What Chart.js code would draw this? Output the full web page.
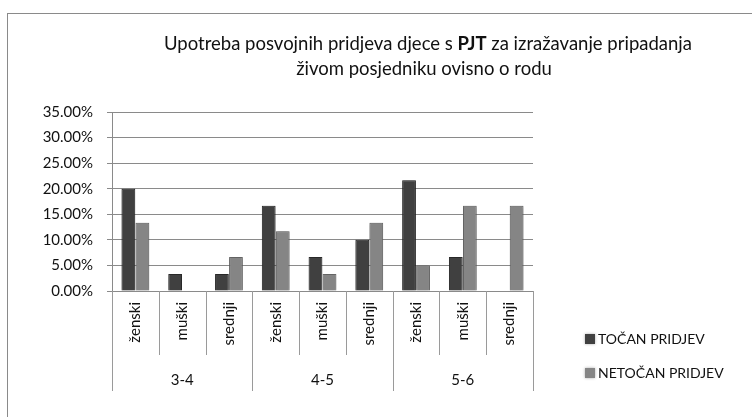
<!DOCTYPE html>
<html>
<head>
<meta charset="utf-8">
<script src="https://cdn.jsdelivr.net/npm/chart.js@4.4.1/dist/chart.umd.min.js"></script>
<style>
  html, body { margin: 0; padding: 0; background: #fff; }
  #wrap { width: 752px; height: 417px; position: relative; }
</style>
</head>
<body>
<div id="wrap"><canvas id="chart"></canvas></div>
<script>
const ageGroups = ["3-4", "4-5", "5-6"];
const genders = ["ženski", "muški", "srednji"];
const categories = [
  "ženski", "muški", "srednji",
  "ženski", "muški", "srednji",
  "ženski", "muški", "srednji",
];
const seriesNames = ["TOČAN PRIDJEV", "NETOČAN PRIDJEV"];
const tocan = [0.2000, 0.0333, 0.0333, 0.1667, 0.0667, 0.1000, 0.2167, 0.0667, 0];
const netocan = [0.1333, 0, 0.0667, 0.1167, 0.0333, 0.1333, 0.0500, 0.1667, 0.1667];
const yTicks = [0, 0.05, 0.10, 0.15, 0.20, 0.25, 0.30, 0.35];

const FONT = "Lato, 'Open Sans', sans-serif";
const TEXT = "#111";
const LINE = "#8a8a8a";
const colors = ["#404040", "#858585"];
const borders = ["#2c2c2c", "#6c6c6c"];

// frame, title, two-level category axis and legend
const decor = {
  id: "decor",
  beforeDraw(chart) {
    const ctx = chart.ctx;
    ctx.save();
    ctx.fillStyle = "#fff";
    ctx.fillRect(0, 0, chart.width, chart.height);
    ctx.strokeStyle = LINE;
    ctx.lineWidth = 1;
    ctx.strokeRect(7.5, 13.5, chart.width, chart.height);
    ctx.restore();
  },
  beforeDatasetsDraw(chart) {
    const ctx = chart.ctx;
    ctx.save();
    ctx.shadowColor = "rgba(0,0,0,0.35)";
    ctx.shadowBlur = 3;
  },
  afterDatasetsDraw(chart) {
    chart.ctx.restore();
  },
  afterDraw(chart) {
    const ctx = chart.ctx;
    const x = chart.scales.x;
    const area = chart.chartArea;
    const step = (area.right - area.left) / categories.length;

    ctx.save();

    // title, with PJT in bold
    const cx = 428;
    const part1 = "Upotreba posvojnih pridjeva djece s ";
    const bold = "PJT";
    const part2 = " za izražavanje pripadanja";
    const tFont = "18.5px " + FONT;
    const tBold = "bold 18.5px " + FONT;
    ctx.fillStyle = TEXT;
    ctx.textBaseline = "middle";
    ctx.font = tFont;
    const w1 = ctx.measureText(part1).width;
    const w3 = ctx.measureText(part2).width;
    ctx.font = tBold;
    const w2 = ctx.measureText(bold).width;
    const tx = cx - (w1 + w2 + w3) / 2;
    ctx.textAlign = "left";
    ctx.font = tFont;
    ctx.fillText(part1, tx, 44);
    ctx.font = tBold;
    ctx.fillText(bold, tx + w1, 44);
    ctx.font = tFont;
    ctx.fillText(part2, tx + w1 + w2, 44);
    ctx.textAlign = "center";
    ctx.fillText("živom posjedniku ovisno o rodu", cx - 4, 69);

    // dividers between categories, longer at age group boundaries
    ctx.strokeStyle = "#9a9a9a";
    ctx.lineWidth = 1;
    for (let i = 0; i <= categories.length; i++) {
      const px = Math.round(x.getPixelForValue(0) - step / 2 + i * step) + 0.5;
      const end = i % genders.length === 0 ? 391 : 355;
      ctx.beginPath();
      ctx.moveTo(px, area.bottom);
      ctx.lineTo(px, end);
      ctx.stroke();
    }

    // rotated gender labels
    ctx.font = "15px " + FONT;
    ctx.fillStyle = TEXT;
    categories.forEach((label, i) => {
      ctx.save();
      ctx.translate(x.getPixelForValue(i), 302);
      ctx.rotate(-Math.PI / 2);
      ctx.textAlign = "right";
      ctx.textBaseline = "middle";
      ctx.fillText(label, 0, 0);
      ctx.restore();
    });

    // age group labels
    ctx.textAlign = "center";
    ctx.textBaseline = "middle";
    ageGroups.forEach((g, gi) => {
      const mid = x.getPixelForValue(gi * genders.length + 1);
      ctx.fillText(g, mid, 380);
    });

    // legend
    ctx.font = "14px " + FONT;
    ctx.textAlign = "left";
    seriesNames.forEach((name, i) => {
      const y = 339 + i * 34;
      ctx.save();
      ctx.shadowColor = "rgba(0,0,0,0.35)";
      ctx.shadowBlur = 3;
      ctx.fillStyle = colors[i];
      ctx.fillRect(585, y - 5, 10, 10);
      ctx.restore();
      ctx.fillStyle = TEXT;
      ctx.fillText(name, 598, y);
    });

    ctx.restore();
  },
};

new Chart(document.getElementById("chart"), {
  type: "bar",
  data: {
    labels: categories,
    datasets: [
      {
        label: seriesNames[0],
        data: tocan,
        backgroundColor: colors[0],
        borderColor: borders[0],
        borderWidth: 1,
        categoryPercentage: 0.6,
        barPercentage: 0.98,
      },
      {
        label: seriesNames[1],
        data: netocan,
        backgroundColor: colors[1],
        borderColor: borders[1],
        borderWidth: 1,
        categoryPercentage: 0.6,
        barPercentage: 0.98,
      },
    ],
  },
  options: {
    responsive: true,
    maintainAspectRatio: false,
    animation: false,
    layout: { padding: { left: 0, top: 112, right: 219, bottom: 0 } },
    plugins: {
      legend: { display: false },
      title: { display: false },
      tooltip: { enabled: false },
    },
    scales: {
      x: {
        ticks: { display: false },
        grid: { display: false },
        border: { display: false },
        afterFit: (s) => { s.height = 126; },
      },
      y: {
        min: 0,
        max: 0.35,
        afterFit: (s) => { s.width = 112; },
        afterBuildTicks: (s) => { s.ticks = yTicks.map((v) => ({ value: v })); },
        ticks: {
          padding: 14,
          color: TEXT,
          font: { family: FONT, size: 15 },
          callback: (v) => (v * 100).toFixed(2) + "%",
        },
        grid: { color: LINE, tickLength: 5 },
        border: { color: LINE },
      },
    },
  },
  plugins: [decor],
});
</script>
</body>
</html>
